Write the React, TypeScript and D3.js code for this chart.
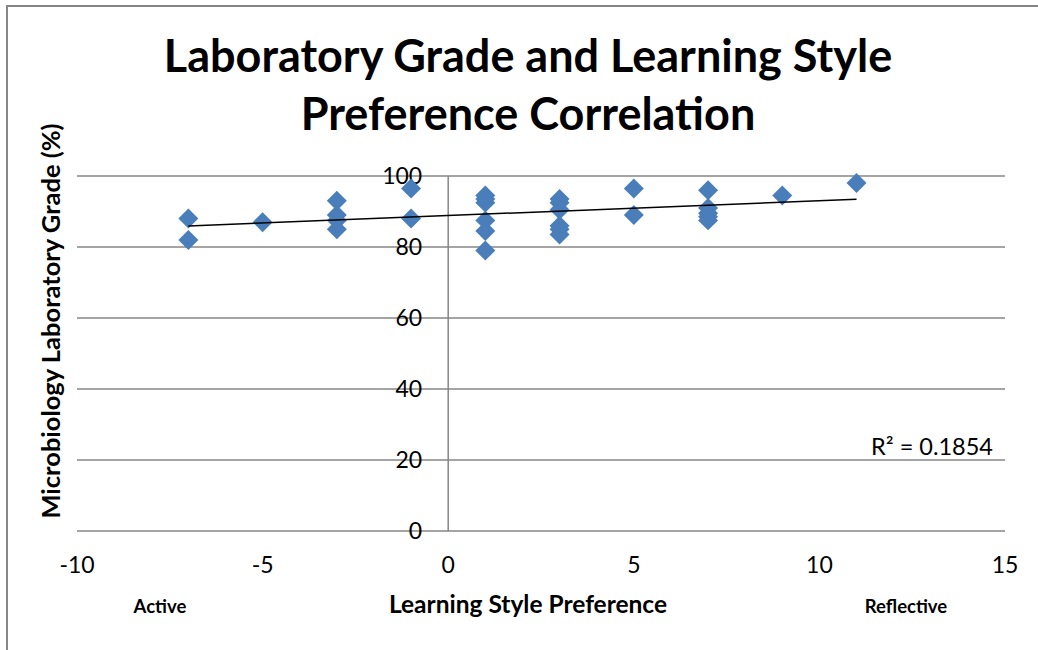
import * as d3 from 'd3';

// learning style score (negative = active, positive = reflective) and lab grade (%)
const styleScore = [-7, -7, -5, -3, -3, -3, -3, -1, -1, 1, 1, 1, 1, 1, 1, 3, 3, 3, 3, 3, 3, 5, 5, 7, 7, 7, 7, 7, 9, 11];
const labGrade = [88, 82, 87, 93, 89, 87.5, 85, 96.5, 88, 94.5, 93.5, 92.5, 87.5, 84.5, 79, 93.5, 92.5, 90.5, 86, 85, 83.5, 96.5, 89, 96, 91, 89.5, 88.5, 87.5, 94.5, 98];

const xTicks = [-10, -5, 0, 5, 10, 15];
const yTicks = [0, 20, 40, 60, 80, 100];
const rSquaredLabel = 'R² = 0.1854';

const FONT = 'Lato, "Open Sans", sans-serif';

export default function App() {
  const width = 1038;
  const height = 650;

  const x = d3.scaleLinear().domain([-10, 15]).range([77, 1005]);
  const y = d3.scaleLinear().domain([0, 100]).range([531, 176]);

  const points = styleScore.map((s, i) => ({ s, g: labGrade[i] }));

  // least squares trend line
  const mx = d3.mean(styleScore) as number;
  const my = d3.mean(labGrade) as number;
  const sxy = d3.sum(points, p => (p.s - mx) * (p.g - my));
  const sxx = d3.sum(points, p => (p.s - mx) ** 2);
  const slope = sxy / sxx;
  const icpt = my - slope * mx;
  const [xmin, xmax] = d3.extent(styleScore) as [number, number];
  const trend = d3.line<number>().x(d => x(d)).y(d => y(icpt + slope * d))([xmin, xmax]);

  const diamond = d3.symbol().type(d3.symbolSquare).size(200)();
  const x0 = x(0);

  return (
    <svg width={width} height={height} style={{ position: 'absolute', left: 0, top: 0, background: '#fff' }} fontFamily={FONT}>
      <rect x={7} y={6} width={1100} height={700} fill="#fff" stroke="#868686" strokeWidth={2} />

      <text x={528} y={72} textAnchor="middle" fontSize={45} fontWeight="bold">Laboratory Grade and Learning Style</text>
      <text x={528} y={130} textAnchor="middle" fontSize={45} fontWeight="bold">Preference Correlation</text>

      {yTicks.map(t => (
        <line key={'g' + t} x1={x(-10)} x2={x(15)} y1={y(t)} y2={y(t)} stroke="#868686" strokeWidth={1.5} />
      ))}
      <line x1={x0} x2={x0} y1={y(100)} y2={y(0)} stroke="#868686" strokeWidth={1.5} />

      {yTicks.map(t => (
        <text key={'yl' + t} x={x0 - 26} y={y(t)} dy="0.36em" textAnchor="end" fontSize={23}>{t}</text>
      ))}
      {xTicks.map(t => (
        <text key={'xl' + t} x={x(t)} y={573} textAnchor="middle" fontSize={23}>{t}</text>
      ))}

      {points.map((p, i) => (
        <path key={i} d={diamond as string} transform={`translate(${x(p.s)},${y(p.g)}) rotate(45)`} fill="#4a7ebb" />
      ))}

      <path d={trend as string} stroke="#000" strokeWidth={1.5} fill="none" />

      <text x={993} y={455} textAnchor="end" fontSize={23.5}>{rSquaredLabel}</text>

      <text x={528} y={613} textAnchor="middle" fontSize={24.5} fontWeight="bold">Learning Style Preference</text>
      <text x={160} y={613} textAnchor="middle" fontSize={18.5} fontWeight="bold">Active</text>
      <text x={906} y={613} textAnchor="middle" fontSize={18.5} fontWeight="bold">Reflective</text>

      <text transform={`translate(60,${321}) rotate(-90)`} textAnchor="middle" fontSize={25.5} fontWeight="bold">Microbiology Laboratory Grade (%)</text>
    </svg>
  );
}
